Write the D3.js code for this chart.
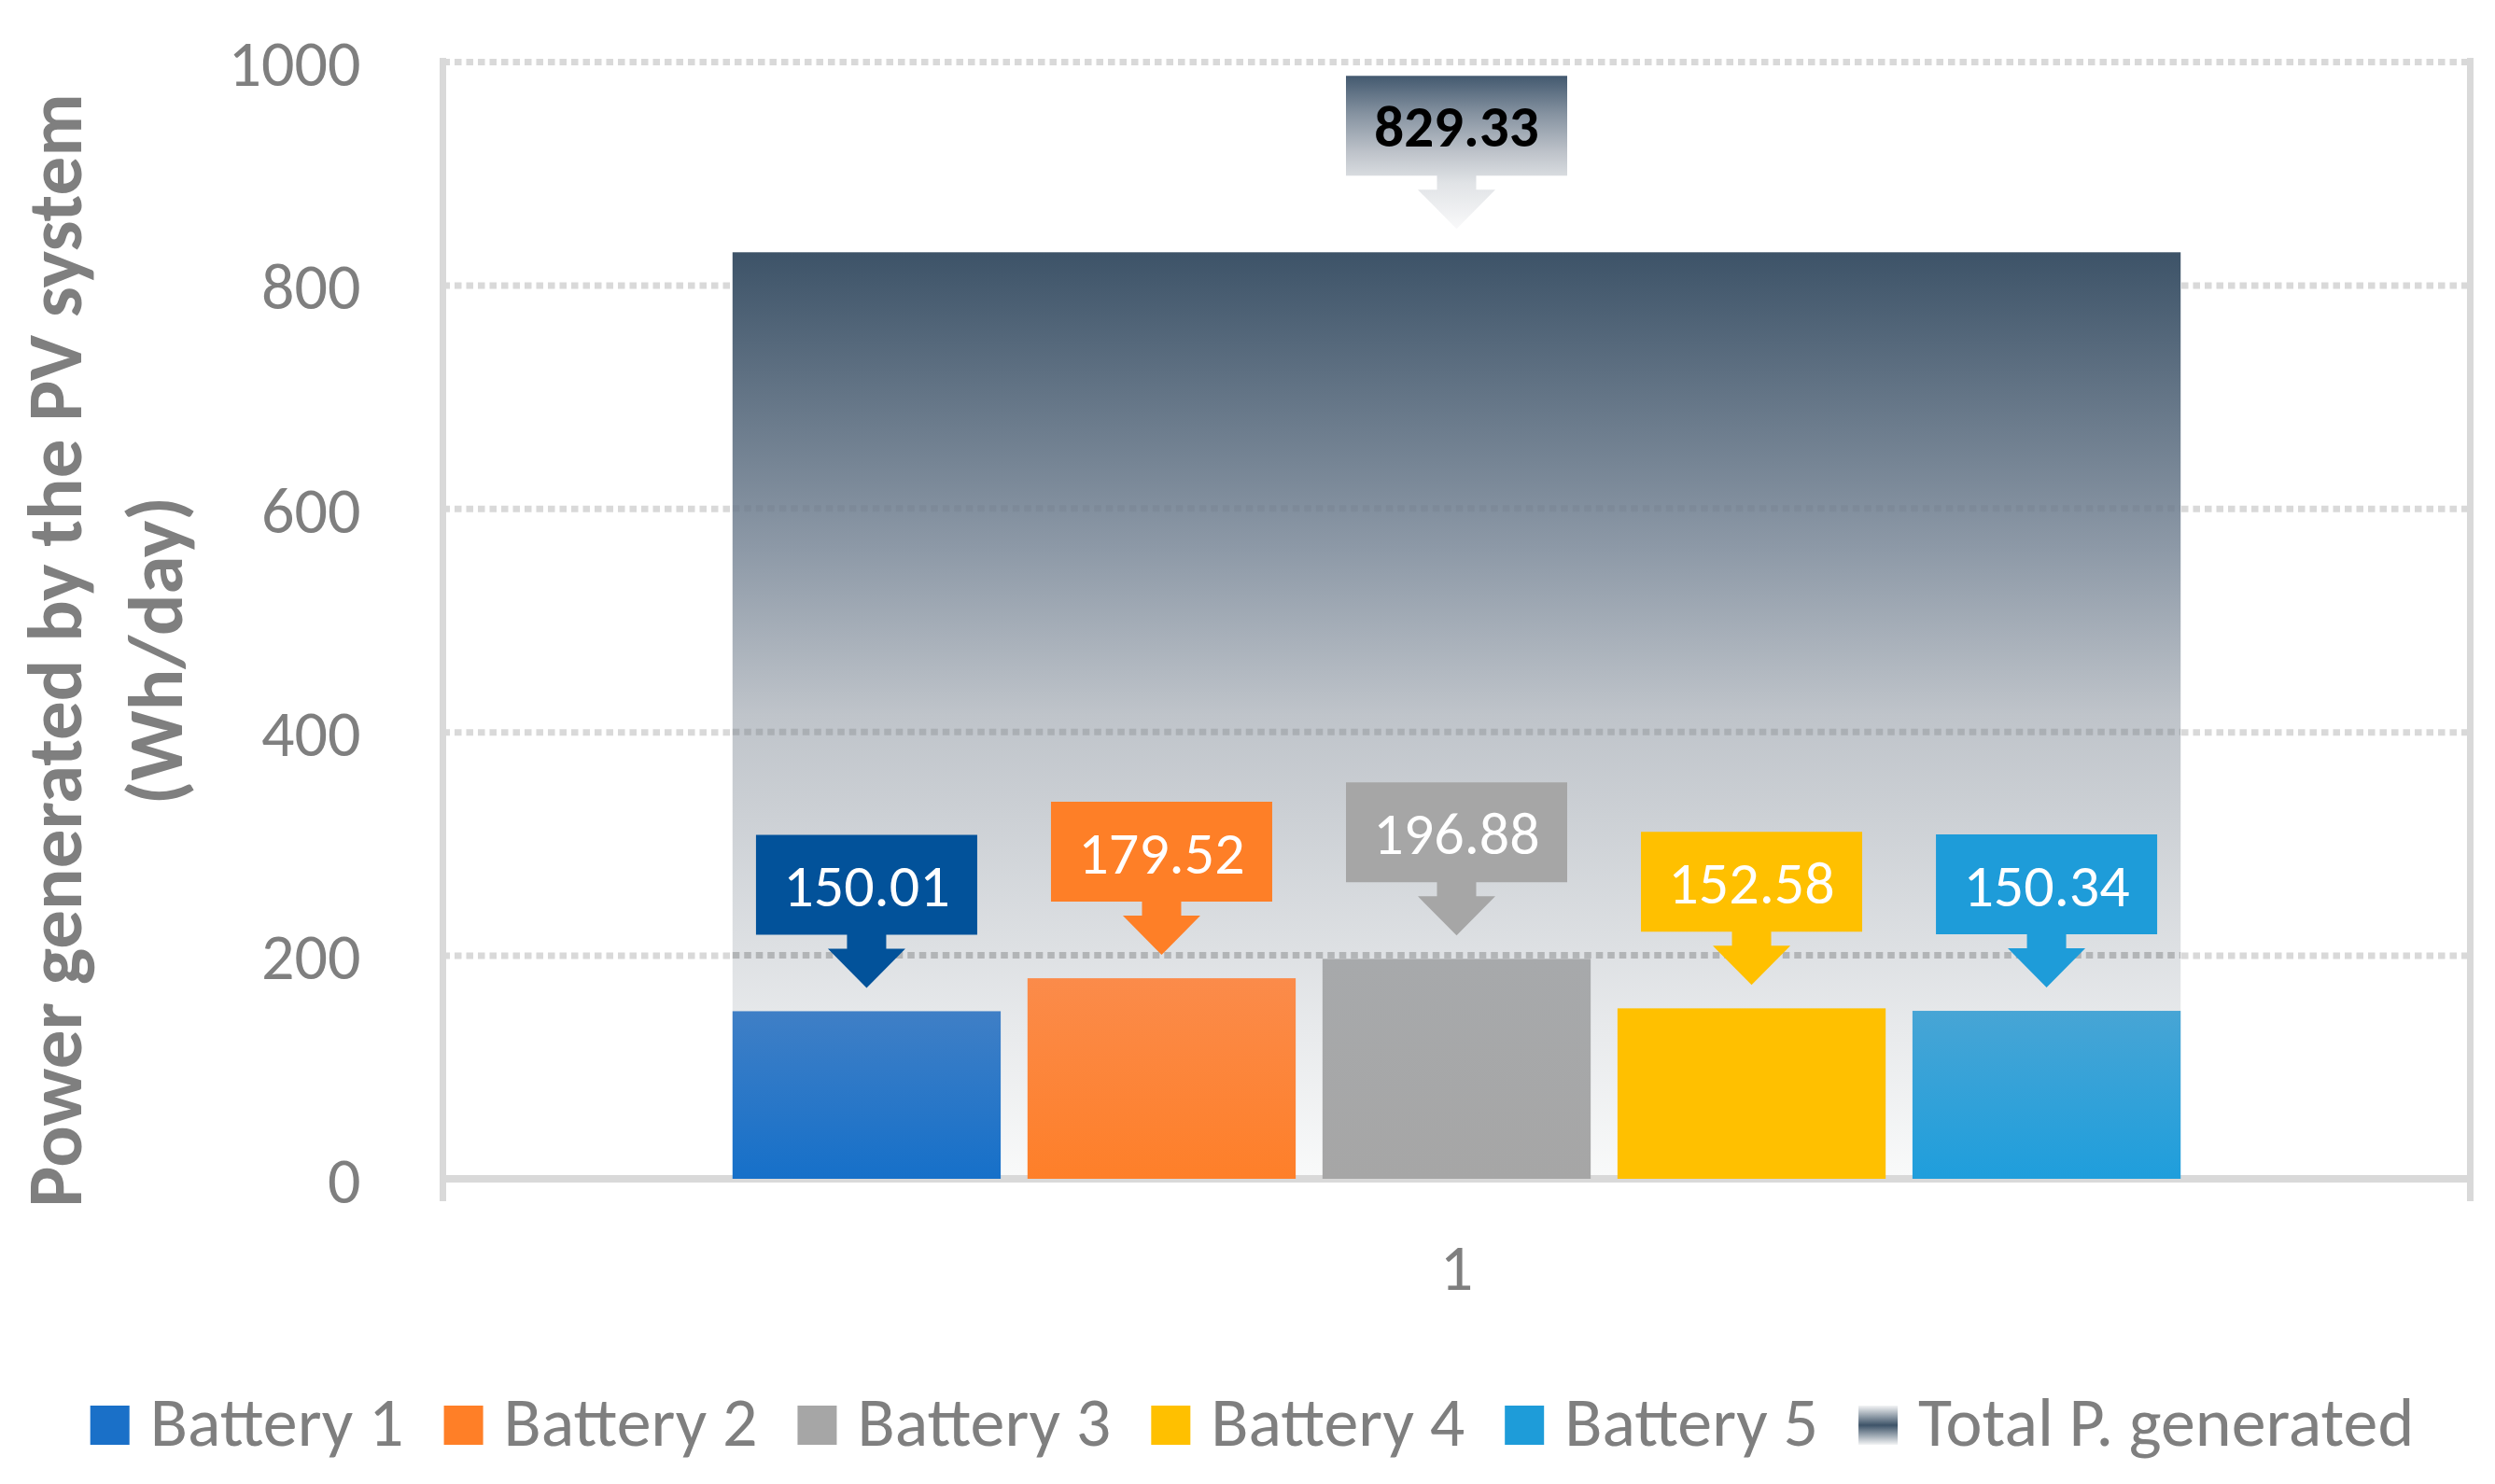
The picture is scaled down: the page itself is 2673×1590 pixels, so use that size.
<!DOCTYPE html>
<html>
  <head>
    <meta charset="utf-8">
    <title>PV power per battery</title>
    <style type="text/css">
      html, body { margin: 0; padding: 0; background: #fff; }
      svg { display: block; }
      text { font-family: Calibri, Carlito, Lato, sans-serif; }
      .overgrid line { mix-blend-mode: multiply; }
    </style>
  </head>
  <body>
    <svg id="chart" width="2673" height="1590"></svg>

    <script type="text/javascript" src="https://cdn.jsdelivr.net/npm/d3@7/dist/d3.min.js"></script>
    <script type="text/javascript">

    // data
    var categories = ['1'];
    var series = ['Battery 1', 'Battery 2', 'Battery 3', 'Battery 4', 'Battery 5'];
    var values = [150.01, 179.52, 196.88, 152.58, 150.34];
    var totalName = 'Total P. generated';
    var totalValue = 829.33;
    var yTicks = [0, 200, 400, 600, 800, 1000];

    // colours
    var barTop    = ['#3f7fc6', '#fb8b4a', '#a7a9ab', '#ffc000', '#47a5d5'];
    var barBottom = ['#1670c9', '#fe7f29', '#a6a6a6', '#ffc000', '#1f9edc'];
    var boxColors = ['#02529a', '#fe7f27', '#a6a6a6', '#ffc000', '#1e9cd9'];
    var keyColors = ['#1a70c8', '#ff7f27', '#a6a6a6', '#ffc000', '#1e9cd9'];

    var W = 2673, H = 1590,
        plotLeft = 474.5, plotRight = 2646.5,
        plotTop = 66, plotBase = 1263,
        grey = '#7f7f7f', lineGrey = '#d9d9d9';

    var svg = d3.select('#chart');
    var defs = svg.append('defs');

    function vGrad(id, stops) {
      var g = defs.append('linearGradient')
        .attr('id', id)
        .attr('x1', 0).attr('y1', 0).attr('x2', 0).attr('y2', 1);
      stops.forEach(function(s) {
        g.append('stop').attr('offset', s[0]).attr('stop-color', s[1]);
      });
    }

    series.forEach(function(s, i) {
      vGrad('bar' + i, [[0, barTop[i]], [1, barBottom[i]]]);
    });
    vGrad('totalBar', [[0, '#3d5368'], [0.32, '#8d99a7'], [0.5, '#bfc4ca'], [0.84, '#e8eaec'], [1, '#f9fafa']]);
    vGrad('totalBox', [[0, '#43596f'], [0.25, '#8693a1'], [0.5, '#bec3ca'], [0.7, '#e0e3e6'], [1, '#f9f9fa']]);
    vGrad('totalKey', [[0, '#f3f4f5'], [0.5, '#3d5368'], [1, '#f3f4f5']]);

    // scales
    var y = d3.scaleLinear().domain([0, 1000]).range([plotBase, plotTop]);
    var x0 = d3.scaleBand().domain(categories).range([plotLeft, plotRight])
               .paddingInner(0).paddingOuter(0.2);
    var x1 = d3.scaleBand().domain(series).range([0, x0.bandwidth()])
               .paddingInner(1 / 11).paddingOuter(0);

    // gridlines + tick labels
    var yAxis = d3.axisLeft(y)
      .tickValues(yTicks)
      .tickSize(-(plotRight - plotLeft))
      .tickPadding(88)
      .tickFormat(d3.format('d'));

    var grid = svg.append('g')
      .attr('class', 'grid')
      .attr('transform', 'translate(' + plotLeft + ',0)')
      .call(yAxis);

    grid.select('.domain').remove();
    grid.selectAll('.tick line')
      .attr('stroke', lineGrey)
      .attr('stroke-width', 7)
      .attr('stroke-dasharray', '7.5,5')
      .attr('opacity', function(d) { return d === 0 ? 0 : 1; });
    grid.selectAll('.tick text')
      .attr('fill', grey)
      .attr('font-size', 70)
      .attr('font-family', null)
      .attr('dy', '0.36em');

    // total bar (secondary series, behind)
    svg.append('g').selectAll('rect')
      .data(categories)
      .enter().append('rect')
        .attr('x', function(d) { return x0(d); })
        .attr('y', y(totalValue))
        .attr('width', x0.bandwidth())
        .attr('height', plotBase - y(totalValue))
        .attr('fill', 'url(#totalBar)');

    // gridlines showing through the lighter part of the total bar
    var tTop = y(totalValue), tH = plotBase - tTop;
    svg.append('g')
      .attr('class', 'overgrid')
      .selectAll('line')
      .data(yTicks.filter(function(d) { return d > 0 && d < totalValue; }))
      .enter().append('line')
        .attr('x1', x0(categories[0]))
        .attr('x2', x0(categories[0]) + x0.bandwidth())
        .attr('y1', function(d) { return y(d); })
        .attr('y2', function(d) { return y(d); })
        .attr('stroke', '#c4c4c4')
        .attr('stroke-width', 7)
        .attr('stroke-dasharray', '7.5,5')
        .attr('opacity', function(d) {
          var f = (y(d) - tTop) / tH;
          return Math.max(0, Math.min(1, (f - 0.15) * 1.4));
        });

    // axis lines
    var axes = svg.append('g').attr('stroke', lineGrey).attr('fill', 'none');
    axes.append('line')
      .attr('x1', plotLeft - 3.5).attr('x2', plotRight + 3.5)
      .attr('y1', y(0)).attr('y2', y(0))
      .attr('stroke-width', 8);
    [plotLeft, plotRight].forEach(function(xx) {
      axes.append('line')
        .attr('x1', xx).attr('x2', xx)
        .attr('y1', y(1000) - 4).attr('y2', y(0) + 24)
        .attr('stroke-width', 7);
    });

    // battery bars
    var bars = svg.append('g')
      .attr('transform', 'translate(' + x0(categories[0]) + ',0)');

    bars.selectAll('rect')
      .data(values)
      .enter().append('rect')
        .attr('x', function(d, i) { return x1(series[i]); })
        .attr('y', function(d) { return y(d); })
        .attr('width', x1.bandwidth())
        .attr('height', function(d) { return plotBase - y(d); })
        .attr('fill', function(d, i) { return 'url(#bar' + i + ')'; });

    // callout labels
    function callout(cx, v) {
      var tip = y(v) - 25,
          headTop = tip - 42,
          boxBot = headTop - 15,
          boxTop = boxBot - 107,
          bw = 237;
      var p = d3.path();
      p.moveTo(cx - bw / 2, boxTop);
      p.lineTo(cx + bw / 2, boxTop);
      p.lineTo(cx + bw / 2, boxBot);
      p.lineTo(cx + 21, boxBot);
      p.lineTo(cx + 21, headTop);
      p.lineTo(cx + 41.5, headTop);
      p.lineTo(cx, tip);
      p.lineTo(cx - 41.5, headTop);
      p.lineTo(cx - 21, headTop);
      p.lineTo(cx - 21, boxBot);
      p.lineTo(cx - bw / 2, boxBot);
      p.closePath();
      return { d: p.toString(), ty: (boxTop + boxBot) / 2 };
    }

    var labels = svg.append('g');
    values.forEach(function(v, i) {
      var cx = x0(categories[0]) + x1(series[i]) + x1.bandwidth() / 2,
          c = callout(cx, v);
      labels.append('path').attr('d', c.d).attr('fill', boxColors[i]);
      labels.append('text')
        .attr('x', cx).attr('y', c.ty)
        .attr('dy', '0.36em')
        .attr('text-anchor', 'middle')
        .attr('fill', '#fff')
        .attr('font-size', 64)
        .text(d3.format('.2f')(v));
    });

    var tcx = x0(categories[0]) + x0.bandwidth() / 2,
        tc = callout(tcx, totalValue);
    labels.append('path').attr('d', tc.d).attr('fill', 'url(#totalBox)');
    labels.append('text')
      .attr('x', tcx).attr('y', tc.ty)
      .attr('dy', '0.36em')
      .attr('text-anchor', 'middle')
      .attr('fill', '#000')
      .attr('font-weight', 'bold')
      .attr('font-size', 63)
      .text(d3.format('.2f')(totalValue));

    // category label
    svg.append('g').selectAll('text')
      .data(categories)
      .enter().append('text')
        .attr('x', function(d) { return x0(d) + x0.bandwidth() / 2; })
        .attr('y', 1382)
        .attr('text-anchor', 'middle')
        .attr('fill', grey)
        .attr('font-size', 70)
        .text(function(d) { return d; });

    // y axis title
    var title = svg.append('text')
      .attr('transform', 'translate(0,697) rotate(-90)')
      .attr('text-anchor', 'middle')
      .attr('fill', grey)
      .attr('font-weight', 'bold')
      .attr('font-size', 83);
    title.append('tspan').attr('x', 0).attr('y', 87).text('Power generated by the PV system');
    title.append('tspan').attr('x', 0).attr('y', 195).text('(Wh/day)');

    // legend
    var keys = series.map(function(s, i) { return { name: s, fill: keyColors[i] }; })
      .concat([{ name: totalName, fill: 'url(#totalKey)' }]);

    var legend = svg.append('g');
    var lx = 0;
    keys.forEach(function(k) {
      var item = legend.append('g').attr('transform', 'translate(' + lx + ',0)');
      item.append('rect')
        .attr('x', 0).attr('y', 1506)
        .attr('width', 42).attr('height', 42)
        .attr('fill', k.fill);
      var t = item.append('text')
        .attr('x', 64).attr('y', 1549)
        .attr('fill', grey)
        .attr('font-size', 74)
        .text(k.name);
      lx += 64 + t.node().getComputedTextLength() + 43;
    });
    var lw = lx - 43;
    legend.attr('transform', 'translate(' + (W / 2 + 5 - lw / 2) + ',0)');

    </script>
  </body>
</html>
